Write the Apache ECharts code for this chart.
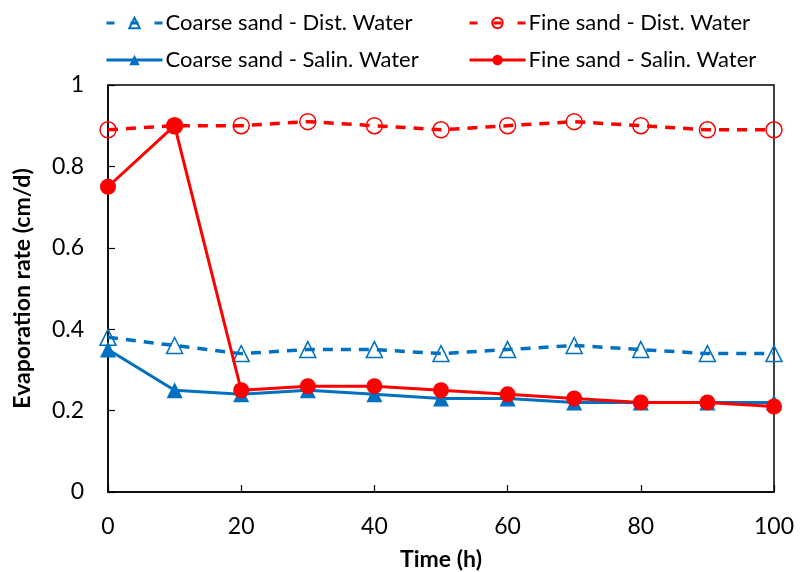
<!DOCTYPE html>
<html>
<head>
<meta charset="utf-8">
<script src="https://cdn.jsdelivr.net/npm/echarts@6/dist/echarts.min.js"></script>
<style>
  html, body { margin: 0; padding: 0; background: #fff; }
  #chart { width: 801px; height: 572px; }
</style>
</head>
<body>
<div id="chart"></div>
<script>
// Sampling times (h)
const timeHours = [0, 10, 20, 30, 40, 50, 60, 70, 80, 90, 100];

// Evaporation rate (cm/d) per soil / water combination
const coarseDist  = [0.38, 0.36, 0.34, 0.35, 0.35, 0.34, 0.35, 0.36, 0.35, 0.34, 0.34];
const fineDist    = [0.89, 0.90, 0.90, 0.91, 0.90, 0.89, 0.90, 0.91, 0.90, 0.89, 0.89];
const coarseSalin = [0.35, 0.25, 0.24, 0.25, 0.24, 0.23, 0.23, 0.22, 0.22, 0.22, 0.22];
const fineSalin   = [0.75, 0.90, 0.25, 0.26, 0.26, 0.25, 0.24, 0.23, 0.22, 0.22, 0.21];

const seriesNames = [
  'Coarse sand - Dist. Water',
  'Fine sand - Dist. Water',
  'Coarse sand - Salin. Water',
  'Fine sand - Salin. Water'
];

const BLUE = '#0070C0';
const RED = '#FF0000';
const FONT = 'Lato, "Open Sans", sans-serif';

const pairs = arr => timeHours.map((t, i) => [t, arr[i]]);

const legendBase = {
  orient: 'horizontal',
  itemWidth: 56,
  itemHeight: 13,
  itemGap: 4,
  textStyle: { fontFamily: FONT, fontSize: 22, color: '#000', padding: [0, 0, 0, -2] },
  selectedMode: false
};

// One legend block per entry so the two-column layout stays fixed
function legendItem(name, left, top, dashed) {
  return Object.assign({}, legendBase, {
    left: left, top: top,
    data: [{
      name: name,
      lineStyle: dashed ? { width: 3, type: [8, 16] } : { width: 3, type: 'solid' }
    }]
  });
}

const chart = echarts.init(document.getElementById('chart'), null, { renderer: 'canvas' });
chart.setOption({
  animation: false,
  backgroundColor: '#fff',
  legend: [
    legendItem(seriesNames[0], 100, 7, true),
    legendItem(seriesNames[1], 463, 7, true),
    legendItem(seriesNames[2], 100, 44, false),
    legendItem(seriesNames[3], 463, 44, false)
  ],
  grid: {
    left: 108, right: 27, top: 85, bottom: 80,
    outerBoundsMode: 'none', containLabel: false,
    show: true, borderColor: '#000', borderWidth: 1.5, backgroundColor: 'transparent'
  },
  xAxis: {
    type: 'value', min: 0, max: 100, interval: 20,
    name: 'Time (h)', nameLocation: 'middle', nameGap: 56,
    nameTextStyle: { fontFamily: FONT, fontSize: 23, fontWeight: 'bold', color: '#000' },
    axisLine: { lineStyle: { color: '#000', width: 1.5 } },
    axisTick: { inside: true, length: 7, lineStyle: { color: '#000', width: 1.2 } },
    axisLabel: { fontFamily: FONT, fontSize: 23, color: '#000', margin: 23 },
    splitLine: { show: false }
  },
  yAxis: {
    type: 'value', min: 0, max: 1, interval: 0.2,
    name: 'Evaporation rate (cm/d)', nameLocation: 'middle', nameGap: 74,
    nameTextStyle: { fontFamily: FONT, fontSize: 23, fontWeight: 'bold', color: '#000' },
    axisLine: { show: true, lineStyle: { color: '#000', width: 1.5 } },
    axisTick: { show: true, inside: true, length: 7, lineStyle: { color: '#000', width: 1.2 } },
    axisLabel: { fontFamily: FONT, fontSize: 23, color: '#000', margin: 24 },
    splitLine: { show: false }
  },
  series: [
    {
      name: seriesNames[0], type: 'line', data: pairs(coarseDist),
      symbol: 'triangle', symbolSize: 16,
      lineStyle: { color: BLUE, width: 3.5, type: [10, 8] },
      itemStyle: { color: 'rgba(255,255,255,0)', borderColor: BLUE, borderWidth: 1.5 },
      z: 2
    },
    {
      name: seriesNames[1], type: 'line', data: pairs(fineDist),
      symbol: 'circle', symbolSize: 16,
      lineStyle: { color: RED, width: 3.5, type: [10, 8] },
      itemStyle: { color: 'rgba(255,255,255,0)', borderColor: RED, borderWidth: 1.5 },
      z: 2
    },
    {
      name: seriesNames[2], type: 'line', data: pairs(coarseSalin),
      symbol: 'triangle', symbolSize: 16,
      lineStyle: { color: BLUE, width: 3 },
      itemStyle: { color: BLUE, borderWidth: 0 },
      z: 3
    },
    {
      name: seriesNames[3], type: 'line', data: pairs(fineSalin),
      symbol: 'circle', symbolSize: 16,
      lineStyle: { color: RED, width: 3 },
      itemStyle: { color: RED, borderWidth: 0 },
      z: 4
    }
  ]
});
</script>
</body>
</html>
